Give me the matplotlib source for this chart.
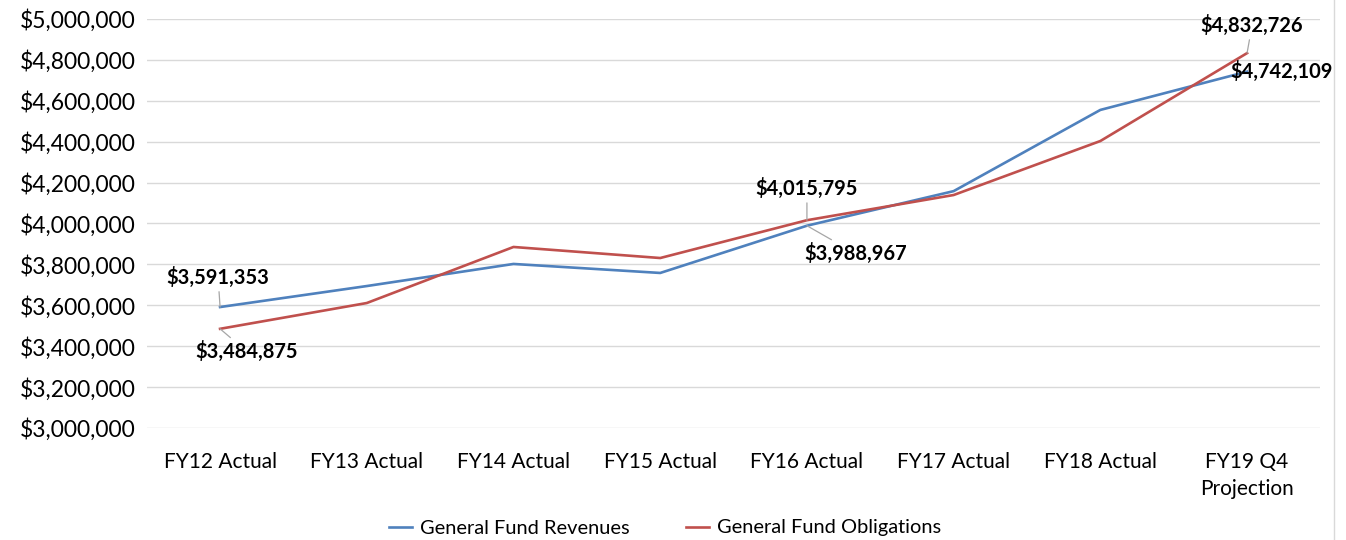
import numpy as np
import matplotlib.pyplot as plt
from matplotlib.ticker import FuncFormatter
from matplotlib.lines import Line2D

plt.rcParams['font.family'] = ['Lato', 'DejaVu Sans']

# Datos del gráfico
categorias = ["FY12 Actual", "FY13 Actual", "FY14 Actual", "FY15 Actual",
              "FY16 Actual", "FY17 Actual", "FY18 Actual", "FY19 Q4\nProjection"]
ingresos = [3591353, 3694000, 3802000, 3758000, 3988967, 4158000, 4555000, 4742109]
obligaciones = [3484875, 3611000, 3885000, 3831000, 4015795, 4139000, 4403000, 4832726]

azul = "#4f81bd"
rojo = "#c0504d"

fig = plt.figure(figsize=(13.46, 5.4), dpi=100)
ax = fig.add_axes([0.109, 0.2074, 0.872, 0.7576])

x = np.arange(len(categorias))
ax.plot(x, ingresos, color=azul, lw=1.9, label="General Fund Revenues")
ax.plot(x, obligaciones, color=rojo, lw=1.9, label="General Fund Obligations")

ax.set_xlim(-0.5, len(categorias) - 0.5)
ax.set_ylim(3000000, 5000000)
ax.set_yticks(np.arange(3000000, 5000001, 200000))
ax.yaxis.set_major_formatter(FuncFormatter(lambda v, p: f"${v:,.0f}"))
ax.set_xticks(x)
ax.set_xticklabels(categorias, linespacing=1.45)
ax.tick_params(axis='both', length=0, colors="#000000")
ax.tick_params(axis='x', pad=17, labelsize=15)
ax.tick_params(axis='y', pad=8, labelsize=16.5)
ax.grid(axis='y', color="#d9d9d9", lw=1)
ax.set_axisbelow(True)
for s in ax.spines.values():
    s.set_visible(False)

# Etiquetas de datos (índice, serie, desplazamiento en píxeles, línea guía)
etiquetas = [
    (0, ingresos, (-2, 30), True),
    (0, obligaciones, (27, -23), True),
    (4, obligaciones, (0, 32), True),
    (4, ingresos, (49, -28), True),
    (7, obligaciones, (5, 28), True),
    (7, ingresos, (34, 0), False),
]
for i, serie, off, guia in etiquetas:
    ap = dict(arrowstyle='-', color="#a6a6a6", lw=0.9, shrinkA=1, shrinkB=0) if guia else None
    ax.annotate(f"${serie[i]:,.0f}", xy=(i, serie[i]), xytext=off,
                textcoords='offset pixels', ha='center', va='center',
                fontsize=14.5, fontweight='bold', arrowprops=ap, zorder=5)

fig.legend(loc='center', bbox_to_anchor=(665 / 1346, 1 - 528 / 540), ncol=2,
           frameon=False, fontsize=14.4, handlelength=1.15, columnspacing=2.8,
           handletextpad=0.4)

fig.add_artist(Line2D([1334 / 1346, 1334 / 1346], [0, 1], color="#d9d9d9", lw=1))

plt.savefig("out.png", dpi=100)
